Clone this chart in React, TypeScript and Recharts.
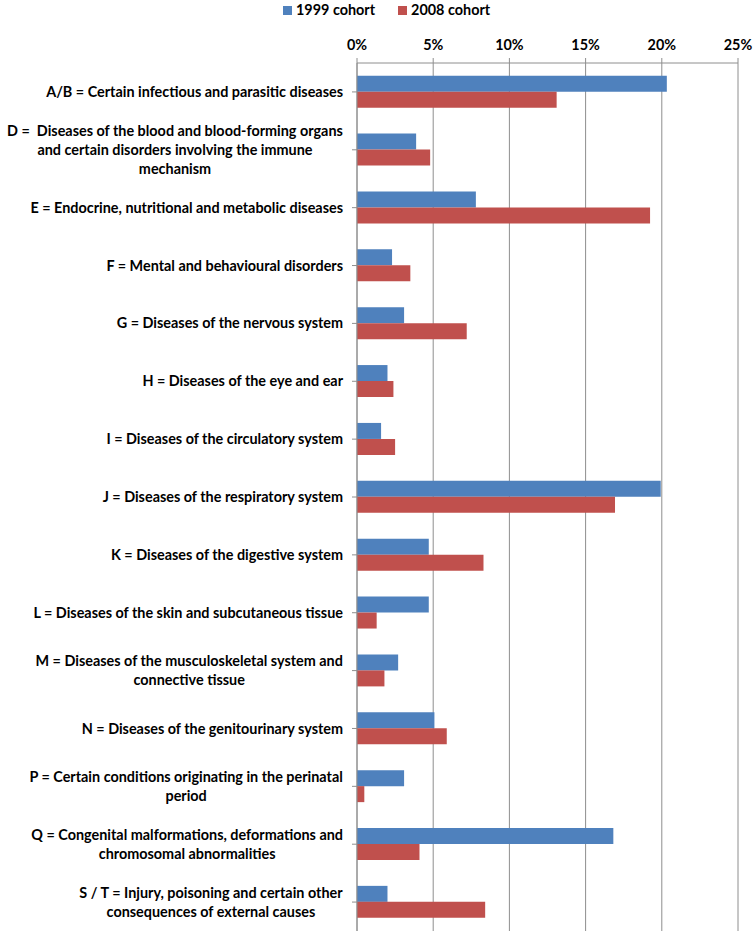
import React from "react";
import { BarChart, Bar, XAxis, YAxis, CartesianGrid, Legend } from "recharts";

const categories: string[] = [
  "A/B = Certain infectious and parasitic diseases",
  "D =  Diseases of the blood and blood-forming organs\nand certain disorders involving the immune\nmechanism",
  "E = Endocrine, nutritional and metabolic diseases",
  "F = Mental and behavioural disorders",
  "G = Diseases of the nervous system",
  "H = Diseases of the eye and ear",
  "I = Diseases of the circulatory system",
  "J = Diseases of the respiratory system",
  "K = Diseases of the digestive system",
  "L = Diseases of the skin and subcutaneous tissue",
  "M = Diseases of the musculoskeletal system and\nconnective tissue",
  "N = Diseases of the genitourinary system",
  "P = Certain conditions originating in the perinatal\nperiod",
  "Q = Congenital malformations, deformations and\nchromosomal abnormalities",
  "S / T = Injury, poisoning and certain other\nconsequences of external causes",
];

const cohort1999: number[] = [
  0.2033, 0.0388, 0.078, 0.023, 0.0309, 0.02, 0.0158, 0.1993, 0.0471, 0.0471,
  0.027, 0.0508, 0.0309, 0.1682, 0.02,
];

const cohort2008: number[] = [
  0.131, 0.048, 0.1923, 0.035, 0.072, 0.0239, 0.025, 0.1693, 0.083, 0.0129,
  0.018, 0.0589, 0.0048, 0.041, 0.0841,
];

const xTicks: number[] = [0, 0.05, 0.1, 0.15, 0.2, 0.25];
const seriesNames = { a: "1999 cohort", b: "2008 cohort" };

const data = categories.map((c, i) => ({
  name: c,
  a: cohort1999[i],
  b: cohort2008[i],
}));

const FONT = "Lato, 'Open Sans', sans-serif";
const FONT_SIZE = 14.4;
const BLUE = "#4F81BD";
const RED = "#C0504D";
const GRID = "#8E8E8E";

let canvasCtx: CanvasRenderingContext2D | null = null;
function measure(text: string): number {
  if (!canvasCtx) {
    const c = document.createElement("canvas");
    canvasCtx = c.getContext("2d");
  }
  if (!canvasCtx) return text.length * 7;
  canvasCtx.font = `bold ${FONT_SIZE}px Lato`;
  return canvasCtx.measureText(text).width;
}

const CategoryTick = (props: any) => {
  const { x, y, payload } = props;
  const lines: string[] = String(payload.value).split("\n");
  const lineH = 19;
  const right = x - 7;
  const maxW = Math.max(...lines.map(measure));
  const cx = lines.length > 1 ? right - maxW / 2 : right;
  const anchor = lines.length > 1 ? "middle" : "end";
  const startDy = -((lines.length - 1) / 2) * lineH;
  return (
    <text
      x={cx}
      y={y + startDy}
      textAnchor={anchor}
      fontFamily={FONT}
      fontWeight="bold"
      fontSize={FONT_SIZE}
      fill="#000"
      style={{ whiteSpace: "pre" }}
    >
      {lines.map((l, i) => (
        <tspan key={i} x={cx} dy={i === 0 ? "0.35em" : lineH}>
          {l}
        </tspan>
      ))}
    </text>
  );
};

const LegendContent = () => (
  <div
    style={{
      display: "flex",
      fontFamily: FONT,
      fontWeight: "bold",
      fontSize: FONT_SIZE,
      color: "#000",
      paddingLeft: 283,
      height: 20,
      lineHeight: "20px",
    }}
  >
    <span style={{ display: "flex", alignItems: "center", marginRight: 23 }}>
      <span style={{ width: 9, height: 9, background: BLUE, marginRight: 4 }} />
      {seriesNames.a}
    </span>
    <span style={{ display: "flex", alignItems: "center" }}>
      <span style={{ width: 9, height: 9, background: RED, marginRight: 4 }} />
      {seriesNames.b}
    </span>
  </div>
);

export default function App() {
  return (
    <div style={{ position: "absolute", left: 0, top: 0, background: "#fff" }}>
      <BarChart
        width={755}
        height={936}
        data={data}
        layout="vertical"
        margin={{ top: 10, right: 17, bottom: 5, left: 0 }}
        barCategoryGap="22%"
        barGap={0}
      >
        <Legend
          verticalAlign="top"
          align="left"
          content={<LegendContent />}
          wrapperStyle={{ top: 0, left: 0, width: 755, height: 20 }}
        />
        <CartesianGrid horizontal={false} vertical={true} stroke={GRID} />
        <XAxis
          type="number"
          orientation="top"
          domain={[0, 0.25]}
          ticks={xTicks}
          tickFormatter={(v: number) => `${Math.round(v * 100)}%`}
          height={33}
          tickSize={5}
          tickMargin={8}
          stroke={GRID}
          tick={{ fill: "#000", fontFamily: FONT, fontWeight: "bold", fontSize: FONT_SIZE }}
          interval={0}
        />
        <YAxis
          type="category"
          dataKey="name"
          width={357}
          tickSize={5}
          tick={<CategoryTick />}
          stroke={GRID}
          interval={0}
        />
        <Bar dataKey="a" name={seriesNames.a} fill={BLUE} isAnimationActive={false} />
        <Bar dataKey="b" name={seriesNames.b} fill={RED} isAnimationActive={false} />
      </BarChart>
    </div>
  );
}
